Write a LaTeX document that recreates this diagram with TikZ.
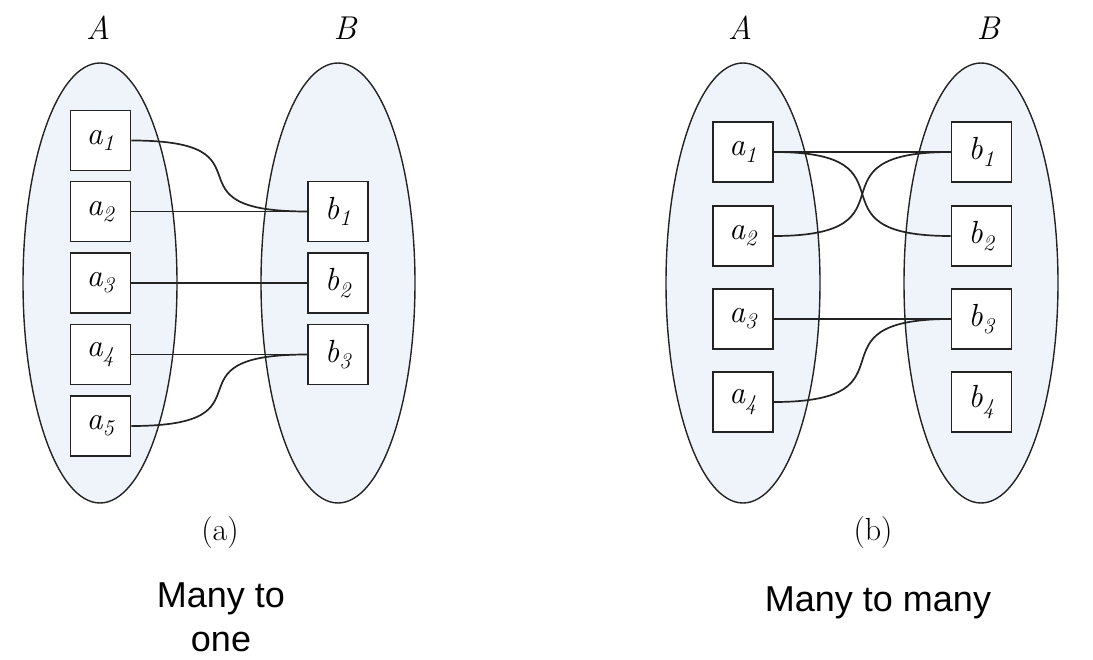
\documentclass[tikz,border=0pt]{standalone}
\usepackage{fontspec}
\newfontfamily\labelsans{Liberation Sans}
\usetikzlibrary{shapes.geometric}
\definecolor{setfill}{RGB}{239,244,251}
\definecolor{inkline}{RGB}{35,35,35}
\newcommand{\elt}[2]{\textit{#1\textsubscript{#2}}}
\tikzset{
  setshape/.style={ellipse, draw=inkline, line width=1.4pt, fill=setfill, inner sep=0pt,
     minimum width=154pt, minimum height=440pt},
  elem/.style={rectangle, draw=inkline, line width=1.7pt, fill=white, inner sep=0pt,
     minimum width=60pt, minimum height=60pt, font=\fontsize{32}{38}\selectfont},
  link/.style={draw=inkline, line width=1.7pt},
  setname/.style={anchor=base, inner sep=0pt, font=\fontsize{33}{38}\selectfont\itshape},
  sublabel/.style={inner sep=0pt, font=\fontsize{32}{38}\selectfont},
  caption/.style={inner sep=0pt, align=center, font=\labelsans\fontsize{36}{44}\selectfont}
}
\begin{document}
\begin{tikzpicture}[x=1pt,y=-1pt]
\useasboundingbox (0,0) rectangle (1093,660);
% ---------- (a) ----------
\node[setshape] (SA) at (100,283) {};
\node[setshape] (SB) at (338,283) {};
\node[setname] (LA) at (98,40) {A};
\node[setname] (LB) at (345,40) {B};
\node[elem] (a1) at (100.5,140.5) {\elt{a}{1}};
\node[elem] (a2) at (100.5,211.5) {\elt{a}{2}};
\node[elem] (a3) at (100.5,283) {\elt{a}{3}};
\node[elem] (a4) at (100.5,354.5) {\elt{a}{4}};
\node[elem] (a5) at (100.5,426) {\elt{a}{5}};
\node[elem] (b1) at (338,211.5) {\elt{b}{1}};
\node[elem] (b2) at (338,283) {\elt{b}{2}};
\node[elem] (b3) at (338,354.5) {\elt{b}{3}};
\draw[link] (a1.east) .. controls +(150,0) and +(-150,0) .. (b1.west);
\draw[link] (a2.east) -- (b1.west);
\draw[link] (a3.east) -- (b2.west);
\draw[link] (a4.east) -- (b3.west);
\draw[link] (a5.east) .. controls +(150,0) and +(-150,0) .. (b3.west);
\node[sublabel] (capa) at (220,533) {(a)};
\node[caption, anchor=north] (txta) at (221,583) {Many to\\one};
% ---------- (b) ----------
\node[setshape] (SC) at (743,283) {};
\node[setshape] (SD) at (981,283) {};
\node[setname] (LC) at (740,40) {A};
\node[setname] (LD) at (988,40) {B};
\node[elem] (c1) at (743,152) {\elt{a}{1}};
\node[elem] (c2) at (743,236) {\elt{a}{2}};
\node[elem] (c3) at (743,319) {\elt{a}{3}};
\node[elem] (c4) at (743,402) {\elt{a}{4}};
\node[elem] (d1) at (981.5,152) {\elt{b}{1}};
\node[elem] (d2) at (981.5,236) {\elt{b}{2}};
\node[elem] (d3) at (981.5,319) {\elt{b}{3}};
\node[elem] (d4) at (981.5,402) {\elt{b}{4}};
\draw[link] (c1.east) -- (d1.west);
\draw[link] (c1.east) .. controls +(150,0) and +(-150,0) .. (d2.west);
\draw[link] (c2.east) .. controls +(150,0) and +(-150,0) .. (d1.west);
\draw[link] (c3.east) -- (d3.west);
\draw[link] (c4.east) .. controls +(150,0) and +(-150,0) .. (d3.west);
\node[sublabel] (capb) at (873,533) {(b)};
\node[caption, anchor=base] (txtb) at (878,611) {Many to many};
\end{tikzpicture}
\end{document}
